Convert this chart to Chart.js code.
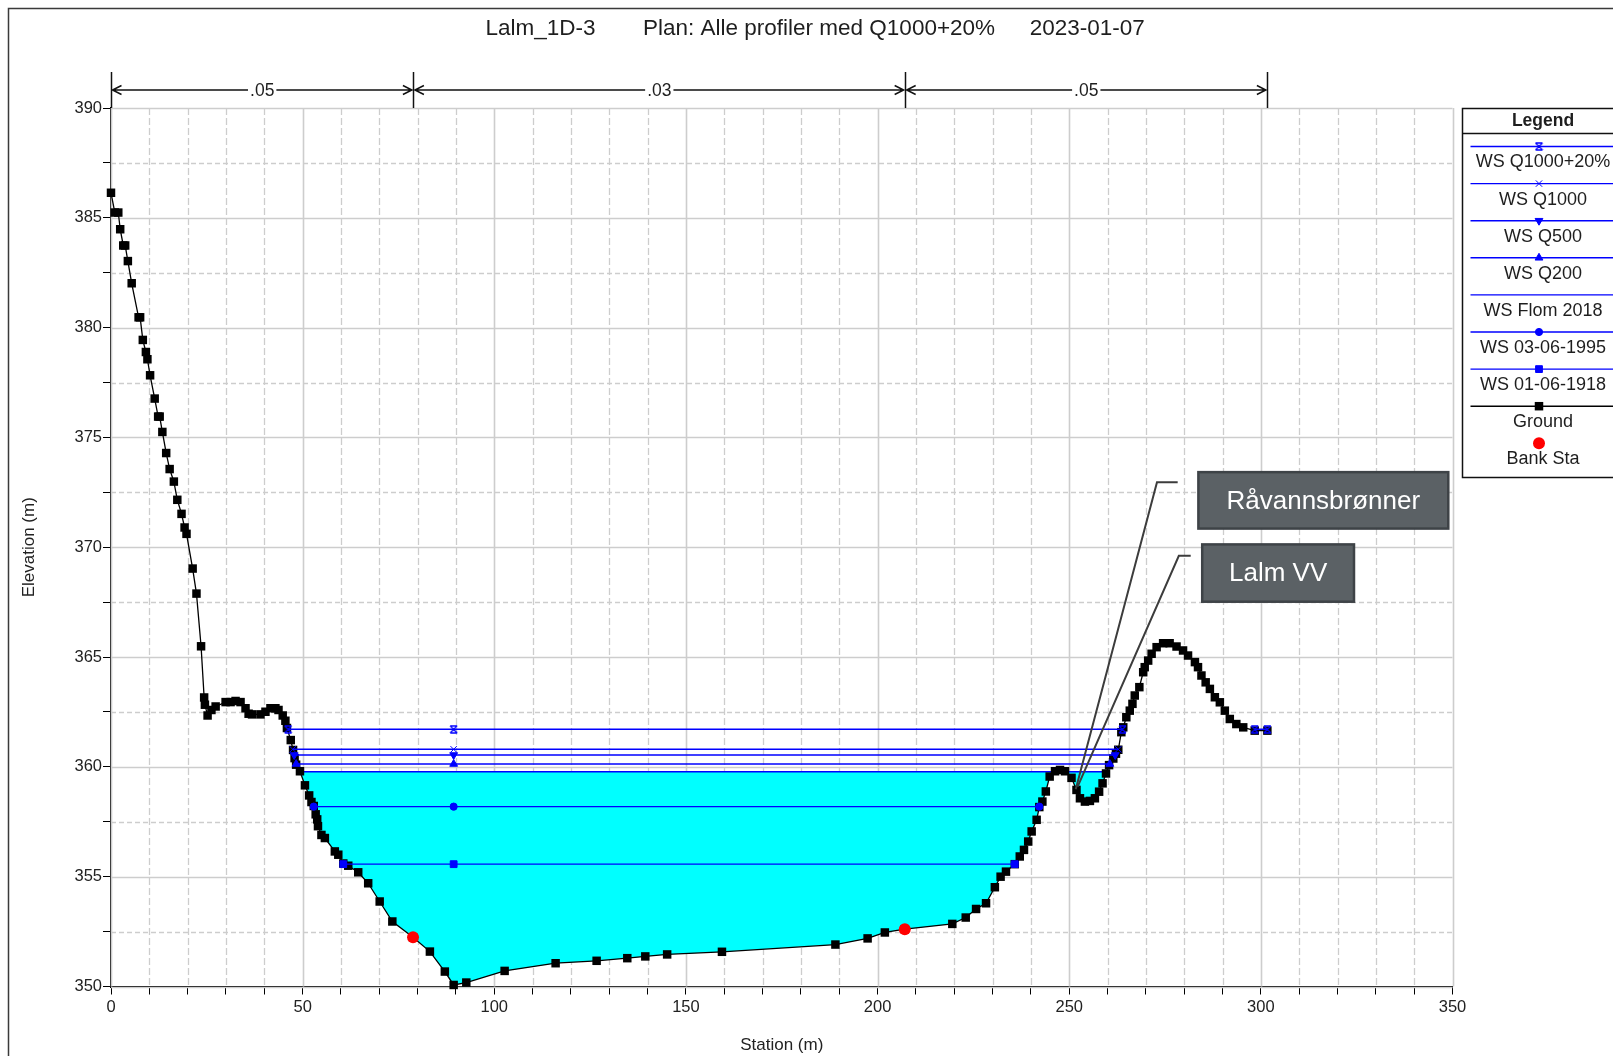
<!DOCTYPE html>
<html>
<head>
<meta charset="utf-8">
<script src="https://cdn.jsdelivr.net/npm/chart.js@4.4.1/dist/chart.umd.min.js"></script>
<style>
html,body{margin:0;padding:0;background:#fff;overflow:hidden}
canvas{display:block}
</style>
</head>
<body>
<canvas id="c" width="1613" height="1056"></canvas>
<script>
// ---------------- data ----------------
const groundStation = [0,1.0,1.9,2.4,3.2,3.7,4.4,5.4,7.2,7.6,8.3,9.1,9.5,10.2,11.4,12.3,12.7,13.4,14.4,15.3,16.4,17.3,18.4,19.2,19.7,21.3,22.3,23.5,24.3,24.5,25.2,26.2,27.3,29.9,31.2,32.5,33.8,35.1,35.9,36.8,39.0,40.3,41.6,42.9,43.7,44.8,45.5,45.9,46.9,47.5,47.9,48.3,49.3,50.6,51.7,52.3,52.9,53.4,53.8,54.0,54.9,55.8,58.4,59.3,60.6,61.9,64.5,67.1,70.1,73.4,78.8,83.2,87.1,89.4,92.7,102.7,116.0,126.7,134.7,139.4,145.1,159.4,189.0,197.4,201.9,207.1,219.5,223.0,225.7,228.3,230.6,232.1,233.5,235.8,237.1,238.2,239.3,240.2,241.5,242.2,243.0,243.9,244.9,246.3,247.6,248.9,250.6,251.9,252.8,254.1,255.4,256.7,257.8,258.7,259.6,260.4,261.5,262.2,262.8,263.6,264.1,264.9,265.8,266.5,267.1,268.3,269.3,269.7,270.6,271.5,272.8,274.5,276.2,278.0,279.7,281.0,282.8,283.6,284.5,285.6,286.7,288.0,289.3,290.6,291.9,293.6,295.4,298.4,301.7];
const groundElev = [386.14,385.24,385.24,384.48,383.74,383.74,383.03,382.02,380.47,380.47,379.44,378.89,378.56,377.83,376.77,375.95,375.95,375.25,374.29,373.56,372.99,372.16,371.52,370.90,370.61,369.03,367.89,365.49,363.16,362.83,362.34,362.59,362.75,362.95,362.95,363.00,362.95,362.67,362.42,362.39,362.39,362.51,362.67,362.67,362.59,362.34,362.10,361.77,361.22,360.77,360.40,360.10,359.80,359.16,358.70,358.40,358.22,357.84,357.61,357.30,356.90,356.76,356.15,356.00,355.60,355.50,355.20,354.70,353.87,352.96,352.24,351.59,350.68,350.07,350.18,350.71,351.06,351.17,351.29,351.37,351.46,351.58,351.91,352.19,352.46,352.61,352.85,353.14,353.53,353.79,354.52,355.00,355.23,355.57,355.92,356.22,356.60,357.06,357.59,358.17,358.42,358.88,359.56,359.80,359.86,359.80,359.50,358.95,358.57,358.42,358.45,358.57,358.87,359.25,359.70,360.08,360.38,360.60,360.78,361.58,361.80,362.26,362.56,362.87,363.25,363.63,364.31,364.54,364.84,365.15,365.45,365.63,365.63,365.48,365.30,365.07,364.77,364.54,364.16,363.85,363.55,363.17,362.94,362.56,362.18,361.95,361.80,361.65,361.65];

const bankStation = [78.8, 207.1];
const bankElev = [352.24, 352.61];

const wsNames = ['WS Q1000+20%', 'WS Q1000', 'WS Q500', 'WS Q200', 'WS Flom 2018', 'WS 03-06-1995', 'WS 01-06-1918'];
const wsElev  = [361.71, 360.80, 360.54, 360.13, 359.78, 358.19, 355.57];
// stations of the drawn water-surface pieces (each inner list is one continuous piece)
const wsPieces = [
  [[46.2, 89.4, 263.9], [298.4, 301.7]],
  [[47.4, 89.4, 262.8]],
  [[47.8, 89.4, 262.0]],
  [[48.3, 89.4, 260.6]],
  [[49.4, 246.0], [249.0, 259.8]],
  [[52.9, 89.4, 242.2]],
  [[60.6, 89.4, 235.8]]
];

// Manning's n regions along the top
const nStations = [0, 78.9, 207.2, 301.7];
const nValues = ['.05', '.03', '.05'];

const titleParts = ['Lalm_1D-3', 'Plan: Alle profiler med Q1000+20%', '2023-01-07'];

// ---------------- styles ----------------
const FONT = "'Liberation Sans', Arial, sans-serif";
const BLUE = '#0000ff';

function makeStar() {
  const c = document.createElement('canvas');
  c.width = 9; c.height = 9;
  const g = c.getContext('2d');
  g.strokeStyle = BLUE; g.lineWidth = 1.3;
  g.beginPath();
  g.moveTo(1, 1); g.lineTo(8, 8); g.moveTo(8, 1); g.lineTo(1, 8);
  g.moveTo(1, 1); g.lineTo(8, 1); g.moveTo(1, 8); g.lineTo(8, 8);
  g.stroke();
  return c;
}
const wsStyle = [
  {pointStyle: makeStar(), rot: 0, r: 4.5},
  {pointStyle: 'crossRot', rot: 0, r: 4.5},
  {pointStyle: 'triangle', rot: 180, r: 4.5},
  {pointStyle: 'triangle', rot: 0, r: 4.5},
  {pointStyle: false, rot: 0, r: 0},
  {pointStyle: 'circle', rot: 0, r: 3.6},
  {pointStyle: 'rect', rot: 0, r: 4.8}
];

function piecesToData(pieces, elev) {
  const out = [];
  pieces.forEach((p, k) => {
    if (k > 0) out.push({x: p[0], y: null});
    p.forEach(s => out.push({x: s, y: elev}));
  });
  return out;
}

const GROUND_INDEX = 7;
const datasets = wsNames.map((name, i) => ({
  label: name,
  data: piecesToData(wsPieces[i], wsElev[i]),
  borderColor: BLUE,
  backgroundColor: i === 4 ? '#00ffff' : BLUE,
  borderWidth: 1.4,
  pointStyle: wsStyle[i].pointStyle,
  pointRotation: wsStyle[i].rot,
  pointRadius: wsStyle[i].r,
  pointBackgroundColor: BLUE,
  pointBorderColor: BLUE,
  pointBorderWidth: 1,
  spanGaps: false,
  fill: i === 4 ? GROUND_INDEX : false,
  order: i === 4 ? 10 : 3,
  clip: false
}));
datasets.push({
  label: 'Ground',
  data: groundStation.map((s, i) => ({x: s, y: groundElev[i]})),
  borderColor: '#000',
  backgroundColor: '#000',
  borderWidth: 1.3,
  pointStyle: 'rect',
  pointRadius: 6,
  pointBackgroundColor: '#000',
  pointBorderWidth: 0,
  fill: false,
  order: 6,
  clip: false
});
datasets.push({
  label: 'Bank Sta',
  data: bankStation.map((s, i) => ({x: s, y: bankElev[i]})),
  showLine: false,
  borderColor: '#ff0000',
  backgroundColor: '#ff0000',
  pointStyle: 'circle',
  pointRadius: 6,
  pointBackgroundColor: '#ff0000',
  pointBorderColor: '#ff0000',
  pointBorderWidth: 0,
  fill: false,
  order: 1,
  clip: false
});

// annotations (positions in data units)
const notes = [
  {text: 'Råvannsbrønner', box: [283.7, 373.42, 348.9, 370.85], leader: [[278.3, 372.96], [272.9, 372.96], [251.7, 358.98]]},
  {text: 'Lalm VV', box: [284.7, 370.13, 324.3, 367.52], leader: [[281.7, 369.61], [278.6, 369.61], [252.2, 359.10]]}
];

// ---------------- plugins ----------------
const gridPlugin = {
  id: 'hecGrid',
  beforeDatasetsDraw(chart) {
    const {ctx, chartArea: a, scales: {x, y}} = chart;
    ctx.save();
    ctx.strokeStyle = '#cdcdcd';
    x.ticks.forEach(t => {
      const major = t.value % 50 === 0;
      const px = Math.round(x.getPixelForValue(t.value)) + 0.5;
      ctx.lineWidth = major ? 1.6 : 1.3;
      ctx.setLineDash(major ? [] : [7, 3]);
      ctx.beginPath(); ctx.moveTo(px, a.top); ctx.lineTo(px, a.bottom); ctx.stroke();
    });
    y.ticks.forEach(t => {
      const major = Math.abs(t.value % 5) < 1e-6;
      const py = Math.round(y.getPixelForValue(t.value)) + 0.5;
      ctx.lineWidth = major ? 1.6 : 1.3;
      ctx.setLineDash(major ? [] : [5, 3]);
      ctx.beginPath(); ctx.moveTo(a.left, py); ctx.lineTo(a.right, py); ctx.stroke();
    });
    ctx.restore();
  }
};

function drawMarker(ctx, ds, px, py) {
  if (!ds.pointStyle) return;
  ctx.save();
  ctx.fillStyle = ds.pointBackgroundColor || ds.backgroundColor;
  ctx.strokeStyle = ds.pointBorderColor || ds.borderColor;
  ctx.lineWidth = 1;
  Chart.helpers.drawPoint(ctx, {pointStyle: ds.pointStyle, rotation: ds.pointRotation || 0, radius: ds.pointRadius, borderWidth: ds.pointBorderWidth || 0}, px, py);
  ctx.restore();
}

const overlayPlugin = {
  id: 'hecOverlay',
  afterDatasetsDraw(chart) {
    const {ctx, scales: {x, y}} = chart;
    ctx.save();
    notes.forEach(n => {
      ctx.strokeStyle = '#3c3c3c'; ctx.lineWidth = 2;
      ctx.beginPath();
      n.leader.forEach((p, k) => {
        const px = x.getPixelForValue(p[0]), py = y.getPixelForValue(p[1]);
        if (k === 0) ctx.moveTo(px, py); else ctx.lineTo(px, py);
      });
      ctx.stroke();
      const x1 = x.getPixelForValue(n.box[0]), y1 = y.getPixelForValue(n.box[1]);
      const x2 = x.getPixelForValue(n.box[2]), y2 = y.getPixelForValue(n.box[3]);
      ctx.fillStyle = '#5b6165';
      ctx.fillRect(x1, y1, x2 - x1, y2 - y1);
      ctx.strokeStyle = '#3e4347'; ctx.lineWidth = 2.5;
      ctx.strokeRect(x1, y1, x2 - x1, y2 - y1);
      ctx.fillStyle = '#ffffff';
      ctx.font = '26px ' + FONT;
      ctx.textAlign = 'center'; ctx.textBaseline = 'middle';
      ctx.fillText(n.text, (x1 + x2) / 2, (y1 + y2) / 2 + 1);
    });
    ctx.restore();
  },
  afterDraw(chart) {
    const {ctx, chartArea: a, scales: {x}} = chart;
    ctx.save();
    ctx.strokeStyle = '#3a3a3a'; ctx.lineWidth = 1.5;
    ctx.strokeRect(8.5, 8.5, 1800, 1200);

    ctx.fillStyle = '#1e1e1e';
    ctx.font = '22.5px ' + FONT;
    ctx.textAlign = 'left'; ctx.textBaseline = 'middle';
    const tx = [485.5, 643, 1029.7];
    titleParts.forEach((t, i) => ctx.fillText(t, tx[i], 29));

    const yTop = 72, yArr = 90;
    ctx.strokeStyle = '#111'; ctx.lineWidth = 1.5;
    nStations.forEach(s => {
      const px = Math.round(x.getPixelForValue(s)) + 0.5;
      ctx.beginPath(); ctx.moveTo(px, yTop); ctx.lineTo(px, a.top); ctx.stroke();
    });
    ctx.font = '17.5px ' + FONT;
    ctx.textAlign = 'center';
    for (let i = 0; i < nValues.length; i++) {
      const x1 = x.getPixelForValue(nStations[i]) + 1.5;
      const x2 = x.getPixelForValue(nStations[i + 1]) - 1.5;
      const mid = (x1 + x2) / 2;
      const tw = ctx.measureText(nValues[i]).width;
      ctx.beginPath();
      ctx.moveTo(x1, yArr); ctx.lineTo(mid - tw / 2 - 2, yArr);
      ctx.moveTo(mid + tw / 2 + 2, yArr); ctx.lineTo(x2, yArr);
      ctx.moveTo(x1 + 9, yArr - 4.5); ctx.lineTo(x1, yArr); ctx.lineTo(x1 + 9, yArr + 4.5);
      ctx.moveTo(x2 - 9, yArr - 4.5); ctx.lineTo(x2, yArr); ctx.lineTo(x2 - 9, yArr + 4.5);
      ctx.stroke();
      ctx.fillStyle = '#1e1e1e';
      ctx.fillText(nValues[i], mid, yArr + 1);
    }

    const L = {x: 1462.5, y: 108.5, w: 220, h: 369, cx: 1543, mx: 1539, first: 146.5, step: 37.1, dy: 16};
    ctx.fillStyle = '#fff';
    ctx.fillRect(L.x, L.y, L.w, L.h);
    ctx.strokeStyle = '#111'; ctx.lineWidth = 1.5;
    ctx.strokeRect(L.x, L.y, L.w, L.h);
    ctx.beginPath(); ctx.moveTo(L.x, 133.5); ctx.lineTo(L.x + L.w, 133.5); ctx.stroke();
    ctx.fillStyle = '#1e1e1e';
    ctx.font = 'bold 17.5px ' + FONT;
    ctx.textAlign = 'center'; ctx.textBaseline = 'middle';
    ctx.fillText('Legend', L.cx, 121);
    ctx.font = '18px ' + FONT;
    chart.data.datasets.forEach((ds, i) => {
      const ly = L.first + i * L.step;
      if (ds.showLine !== false) {
        ctx.strokeStyle = ds.borderColor; ctx.lineWidth = 1.4;
        ctx.beginPath(); ctx.moveTo(L.x + 8, ly); ctx.lineTo(L.x + L.w, ly); ctx.stroke();
      }
      drawMarker(ctx, ds, L.mx, ly);
      ctx.fillStyle = '#1e1e1e';
      ctx.fillText(ds.label, L.cx, ly + L.dy);
    });
    ctx.restore();
  }
};

// ---------------- chart ----------------
Chart.defaults.font.family = FONT;
Chart.defaults.color = '#222';

new Chart(document.getElementById('c'), {
  type: 'line',
  data: {datasets},
  options: {
    responsive: false,
    animation: false,
    devicePixelRatio: 1,
    events: [],
    layout: {padding: {left: 0, top: 108, right: 160.5, bottom: 0}},
    plugins: {legend: {display: false}, tooltip: {enabled: false}, title: {display: false}},
    scales: {
      x: {
        type: 'linear', min: 0, max: 350, position: 'bottom',
        afterFit: s => { s.height = 69.5; },
        ticks: {stepSize: 10, autoSkip: false, maxRotation: 0, padding: 3, font: {size: 16.5}, color: '#222',
                callback: v => (v % 50 === 0 ? String(v) : '')},
        grid: {drawOnChartArea: false, drawTicks: true, tickLength: 8, tickColor: '#000', tickWidth: 1},
        border: {display: true, color: '#000', width: 2},
        title: {display: true, text: 'Station (m)', font: {size: 17}, color: '#222', padding: {top: 0, bottom: 0}}
      },
      y: {
        type: 'linear', min: 350, max: 390, position: 'left',
        afterFit: s => { s.width = 111; },
        ticks: {stepSize: 2.5, autoSkip: false, padding: 1, font: {size: 16.5}, color: '#222',
                callback: v => (Math.abs(v % 5) < 1e-6 ? String(v) : '')},
        grid: {drawOnChartArea: false, drawTicks: true, tickLength: 8, tickColor: '#000', tickWidth: 1},
        border: {display: true, color: '#000', width: 2},
        title: {display: true, text: 'Elevation (m)', font: {size: 17}, color: '#222', padding: {top: 19, bottom: 0}}
      }
    }
  },
  plugins: [gridPlugin, overlayPlugin]
});
</script>
</body>
</html>
